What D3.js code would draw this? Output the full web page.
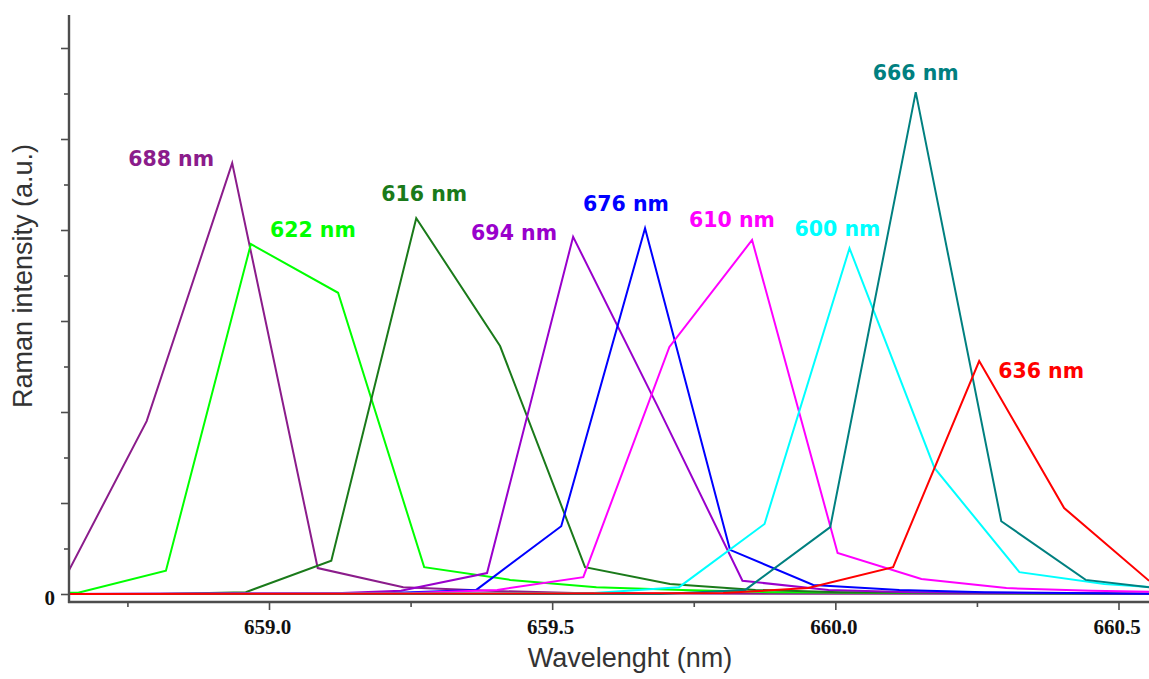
<!DOCTYPE html>
<html>
<head>
<meta charset="utf-8">
<script src="https://cdn.jsdelivr.net/npm/d3@7"></script>
<style>
  html, body { margin: 0; padding: 0; background: #ffffff; }
  svg { display: block; }
</style>
</head>
<body>
<svg id="chart" width="1149" height="679"></svg>
<script>
// Excitation wavelength of each spectrum (legend text next to each peak)
const seriesNames = ["688 nm", "622 nm", "616 nm", "694 nm", "676 nm", "610 nm", "600 nm", "666 nm", "636 nm"];
const seriesColors = ["#8b1c8b", "#00ff00", "#1a7a1a", "#9900cc", "#0000ff", "#ff00ff", "#00ffff", "#008080", "#ff0000"];

// Sampled spectra: wavelength (nm) and Raman intensity (a.u.)
const wl688 = [658.633, 658.784, 658.935, 659.086, 659.237, 659.388, 659.539, 659.690, 660.600];
const int688 = [0.19, 3.80, 9.47, 0.57, 0.15, 0.07, 0.02, 0.01, 0.0];

const wl622 = [658.512, 658.663, 658.818, 658.968, 659.122, 659.274, 659.426, 659.578, 659.730, 659.882, 660.600];
const int622 = [0.0, 0.03, 0.51, 7.69, 6.62, 0.59, 0.31, 0.15, 0.09, 0.04, 0.0];

const wl616 = [658.600, 658.807, 658.959, 659.110, 659.260, 659.408, 659.558, 659.708, 659.859, 660.009, 660.600];
const int616 = [0.0, 0.0, 0.04, 0.73, 8.26, 5.45, 0.59, 0.22, 0.09, 0.04, 0.0];

const wl694 = [658.600, 659.083, 659.233, 659.385, 659.537, 659.686, 659.836, 659.988, 660.138, 660.600];
const int694 = [0.0, 0.0, 0.07, 0.46, 7.85, 4.13, 0.29, 0.09, 0.04, 0.0];

const wl676 = [658.600, 659.214, 659.366, 659.516, 659.664, 659.814, 659.961, 660.113, 660.263, 660.600];
const int676 = [0.0, 0.02, 0.09, 1.49, 8.04, 0.97, 0.20, 0.09, 0.04, 0.0];

const wl610 = [658.600, 659.253, 659.403, 659.555, 659.707, 659.853, 660.004, 660.152, 660.302, 660.452, 660.602];
const int610 = [0.0, 0.02, 0.09, 0.37, 5.43, 7.78, 0.90, 0.33, 0.13, 0.07, 0.04];

const wl600 = [658.600, 659.574, 659.724, 659.875, 660.025, 660.175, 660.325, 660.475, 660.625];
const int600 = [0.0, 0.02, 0.15, 1.54, 7.60, 2.77, 0.48, 0.22, 0.09];

const wl666 = [658.600, 659.691, 659.841, 659.991, 660.142, 660.293, 660.442, 660.592];
const int666 = [0.0, 0.0, 0.09, 1.47, 11.03, 1.60, 0.31, 0.09];

const wl636 = [658.600, 659.802, 659.952, 660.102, 660.254, 660.404, 660.554];
const int636 = [0.0, 0.02, 0.13, 0.59, 5.12, 1.89, 0.29];

const seriesWl = [wl688, wl622, wl616, wl694, wl676, wl610, wl600, wl666, wl636];
const seriesInt = [int688, int622, int616, int694, int676, int610, int600, int666, int636];

// Axis ticks
const xMajorTicks = [659.0, 659.5, 660.0, 660.5];
const xMinorTicks = [658.75, 659.25, 659.75, 660.25];
const yMajorTicks = [0, 2, 4, 6, 8, 10, 12];
const yMinorTicks = [1, 3, 5, 7, 9, 11];

// Label placement relative to each peak (pixels)
const labelDx = [-104, 19, -35, -102, -62, -63, -55, -43, 19];
const labelDy = [3, -7, -17, 3, -17, -13, -12, -12, 17];

const svg = d3.select("#chart");
const plotLeft = 69, plotRight = 1149, plotTop = 15, axisY = 602;

const x = d3.scaleLinear().domain([659.0, 660.5]).range([269, 1118.5]);
const y = d3.scaleLinear().domain([0, 12]).range([594, 48]);

svg.append("defs").append("clipPath").attr("id", "plotClip")
  .append("rect")
  .attr("x", plotLeft + 1).attr("y", 0)
  .attr("width", plotRight - plotLeft).attr("height", axisY - 1);

// Spectra
const line = d3.line().x(d => x(d[0])).y(d => y(d[1]));
const lines = svg.append("g").attr("clip-path", "url(#plotClip)");
seriesNames.forEach((name, i) => {
  const pts = seriesWl[i].map((w, k) => [w, seriesInt[i][k]]);
  lines.append("path")
    .datum(pts)
    .attr("d", line)
    .attr("fill", "none")
    .attr("stroke", seriesColors[i])
    .attr("stroke-width", 2)
    .attr("stroke-linejoin", "miter");
});

// Peak labels
seriesNames.forEach((name, i) => {
  const ints = seriesInt[i];
  const k = d3.maxIndex(ints);
  svg.append("text")
    .attr("x", x(seriesWl[i][k]) + labelDx[i])
    .attr("y", y(ints[k]) + labelDy[i])
    .attr("fill", seriesColors[i])
    .attr("font-family", "'DejaVu Sans', Verdana, sans-serif")
    .attr("font-weight", "bold")
    .attr("font-size", 20.5)
    .text(name);
});

// Axis lines
const axisColor = "#4d4d4d";
svg.append("line")
  .attr("x1", plotLeft).attr("x2", plotLeft)
  .attr("y1", plotTop).attr("y2", axisY + 1)
  .attr("stroke", axisColor).attr("stroke-width", 2.4);
svg.append("line")
  .attr("x1", plotLeft - 1).attr("x2", plotRight)
  .attr("y1", axisY).attr("y2", axisY)
  .attr("stroke", axisColor).attr("stroke-width", 2.4);

// X axis ticks
const xMajor = svg.append("g").attr("transform", `translate(0,${axisY})`)
  .call(d3.axisBottom(x).tickValues(xMajorTicks).tickSize(8).tickPadding(9).tickFormat(d3.format(".1f")));
const xMinor = svg.append("g").attr("transform", `translate(0,${axisY})`)
  .call(d3.axisBottom(x).tickValues(xMinorTicks).tickSize(5).tickFormat(""));

// Y axis ticks
const yMajor = svg.append("g").attr("transform", `translate(${plotLeft},0)`)
  .call(d3.axisLeft(y).tickValues(yMajorTicks).tickSize(8).tickPadding(6).tickFormat(d => d === 0 ? "0" : ""));
const yMinor = svg.append("g").attr("transform", `translate(${plotLeft},0)`)
  .call(d3.axisLeft(y).tickValues(yMinorTicks).tickSize(5).tickFormat(""));

[xMajor, xMinor, yMajor, yMinor].forEach(g => {
  g.select(".domain").remove();
  g.selectAll(".tick line").attr("stroke", axisColor).attr("stroke-width", 1.6);
  g.selectAll(".tick text")
    .attr("fill", "#111")
    .attr("font-family", "'Liberation Serif', 'Times New Roman', serif")
    .attr("font-weight", "bold")
    .attr("font-size", 21);
});
xMajor.selectAll(".tick text").attr("dx", "-2");
yMajor.selectAll(".tick text").attr("dy", "0.5em");

// Axis titles
svg.append("text")
  .attr("x", 630).attr("y", 667)
  .attr("text-anchor", "middle")
  .attr("fill", "#333")
  .attr("font-family", "'Liberation Sans', Arial, sans-serif")
  .attr("font-size", 27)
  .text("Wavelenght (nm)");

svg.append("text")
  .attr("transform", "translate(32,276) rotate(-90)")
  .attr("text-anchor", "middle")
  .attr("fill", "#333")
  .attr("font-family", "'Liberation Sans', Arial, sans-serif")
  .attr("font-size", 27)
  .text("Raman intensity (a.u.)");
</script>
</body>
</html>
